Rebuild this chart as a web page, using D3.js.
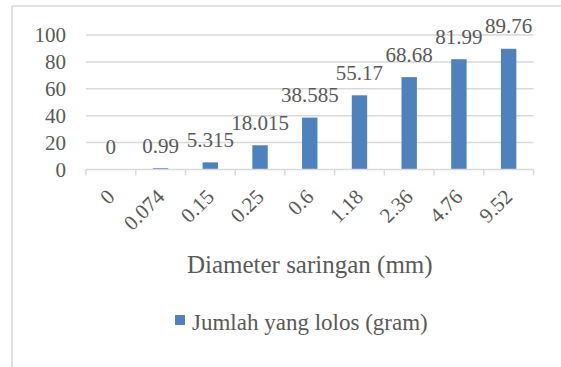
<!DOCTYPE html>
<html>
<head>
<meta charset="utf-8">
<script src="https://cdn.jsdelivr.net/npm/d3@7"></script>
</head>
<body style="margin:0;padding:0;background:#fff;font-family:'Liberation Serif'">
<svg width="561" height="367" font-family="Liberation Serif" style="display:block;font-family:'Liberation Serif'"></svg>
<script>
const categories = ["0", "0.074", "0.15", "0.25", "0.6", "1.18", "2.36", "4.76", "9.52"];
const values = [0, 0.99, 5.315, 18.015, 38.585, 55.17, 68.68, 81.99, 89.76];
const valueLabels = ["0", "0.99", "5.315", "18.015", "38.585", "55.17", "68.68", "81.99", "89.76"];
const yTicks = [0, 20, 40, 60, 80, 100];
const seriesName = "Jumlah yang lolos (gram)";
const xTitle = "Diameter saringan (mm)";

const FONT = "Liberation Serif";
const TXT = "#595959";
const svg = d3.select("svg");
const plot = { left: 86, right: 533.5, top: 35, bottom: 169.5 };
const barColor = "#4F81BD";

function styleText(sel, size) {
  return sel.attr("font-family", FONT).attr("font-size", size).attr("fill", TXT);
}

// chart border
svg.append("rect")
  .attr("x", 12).attr("y", 6)
  .attr("width", 600).attr("height", 400)
  .attr("fill", "none").attr("stroke", "#d9d9d9").attr("stroke-width", 1.5);

const x = d3.scaleBand().domain(categories).range([plot.left, plot.right]).paddingInner(0).paddingOuter(0);
const y = d3.scaleLinear().domain([0, 100]).range([plot.bottom, plot.top]);
const barW = x.bandwidth() * 0.31;

// gridlines
svg.append("g").selectAll("line").data(yTicks.filter(d => d > 0)).join("line")
  .attr("x1", plot.left).attr("x2", plot.right)
  .attr("y1", d => y(d)).attr("y2", d => y(d))
  .attr("stroke", "#d9d9d9").attr("stroke-width", 1.5);

// y axis labels
const yAxis = d3.axisLeft(y).tickValues(yTicks).tickSize(0).tickPadding(20).tickFormat(d3.format("d"));
const gy = svg.append("g").attr("transform", `translate(${plot.left},0)`).call(yAxis);
gy.attr("font-family", FONT).attr("font-size", 21);
gy.select(".domain").remove();
styleText(gy.selectAll("text"), 21);

// bars
svg.append("g").selectAll("rect").data(values).join("rect")
  .attr("x", (d, i) => x(categories[i]) + x.bandwidth() / 2 - barW / 2)
  .attr("width", barW)
  .attr("y", d => y(d))
  .attr("height", d => y(0) - y(d))
  .attr("fill", barColor);

// x axis line + ticks
svg.append("line").attr("x1", plot.left).attr("x2", plot.right)
  .attr("y1", plot.bottom).attr("y2", plot.bottom)
  .attr("stroke", "#d9d9d9").attr("stroke-width", 1.5);
const bounds = categories.map(c => x(c)).concat([x(categories[categories.length - 1]) + x.bandwidth()]);
svg.append("g").selectAll("line").data(bounds).join("line")
  .attr("x1", d => d).attr("x2", d => d)
  .attr("y1", plot.bottom).attr("y2", plot.bottom + 6)
  .attr("stroke", "#d9d9d9").attr("stroke-width", 1.5);

// category labels (rotated)
styleText(svg.append("g").selectAll("text").data(categories).join("text")
  .attr("transform", d => `translate(${x(d) + x.bandwidth() / 2 - 5.5},${plot.bottom + 18}) rotate(-45)`)
  .attr("text-anchor", "end")
  .attr("dy", "0.71em")
  .text(d => d), 21);

// data labels
styleText(svg.append("g").selectAll("text").data(values).join("text")
  .attr("x", (d, i) => x(categories[i]) + x.bandwidth() / 2)
  .attr("y", d => y(d) - 15.5)
  .attr("text-anchor", "middle")
  .text((d, i) => valueLabels[i]), 21);

// axis title
styleText(svg.append("text")
  .attr("x", (plot.left + plot.right) / 2)
  .attr("y", 273)
  .attr("text-anchor", "middle")
  .text(xTitle), 25);

// legend
const lg = svg.append("g");
lg.append("rect").attr("x", 175).attr("y", 315).attr("width", 10).attr("height", 10).attr("fill", barColor);
styleText(lg.append("text").attr("x", 192).attr("y", 330).text(seriesName), 23);
</script>
</body>
</html>
